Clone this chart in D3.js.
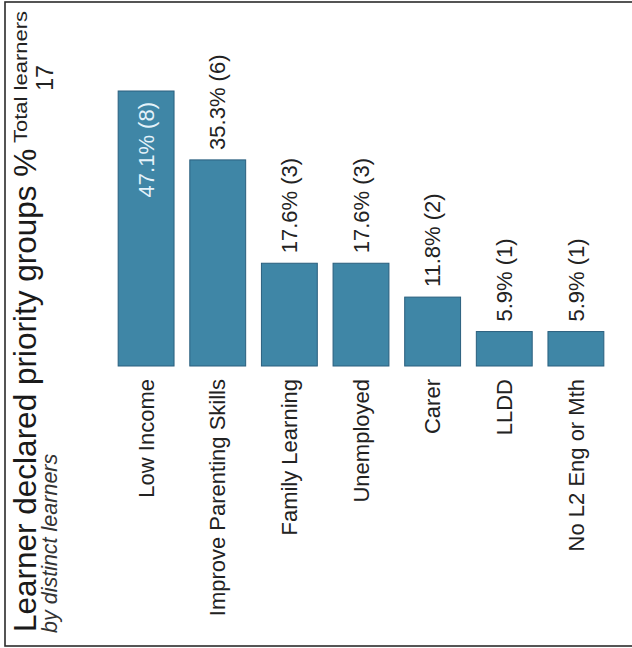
<!DOCTYPE html>
<html><head><meta charset="utf-8">
<script src="https://cdn.jsdelivr.net/npm/d3@7"></script>
<style>body{margin:0;background:#fff;}text{font-family:"Liberation Sans",Arial,sans-serif;}</style>
</head><body>
<svg id="c" width="632" height="648"></svg>
<script>
const categories = ["Low Income","Improve Parenting Skills","Family Learning","Unemployed","Carer","LLDD","No L2 Eng or Mth"];
const percents = [47.1, 35.3, 17.6, 17.6, 11.8, 5.9, 5.9];
const counts = [8, 6, 3, 3, 2, 1, 1];
const totalLearners = 17;
const titleText = "Learner declared priority groups %";
const subtitleText = "by distinct learners";
const totalLabel = "Total learners";

const svg = d3.select("#c");
svg.append("rect").attr("x",5).attr("y",2).attr("width",640).attr("height",644)
  .attr("fill","none").attr("stroke","#2b2b2b").attr("stroke-width",1.6);

const x = d3.scaleBand().domain(categories).range([111, 611]).paddingInner(0.22).paddingOuter(0.1);
const y = d3.scaleLinear().domain([0, 47.1]).range([366, 91]);

const data = categories.map((c,i)=>({c, p:percents[i], n:counts[i]}));

svg.selectAll("rect.bar").data(data).join("rect").attr("class","bar")
  .attr("x", d=>x(d.c)).attr("width", x.bandwidth())
  .attr("y", d=>y(d.p)).attr("height", d=>y(0)-y(d.p))
  .attr("fill","#3f86a6").attr("stroke","#2a5f7e").attr("stroke-width",1);

// value labels
svg.selectAll("text.val").data(data).join("text").attr("class","val")
  .attr("transform", (d,i)=>`translate(${x(d.c)+x.bandwidth()/2},${i===0 ? y(d.p)+11 : y(d.p)-10}) rotate(-90)`)
  .attr("dy","0.35em")
  .attr("text-anchor", (d,i)=> i===0 ? "end" : "start")
  .attr("font-size", 22)
  .attr("fill", (d,i)=> i===0 ? "#e4f2fa" : "#222")
  .text(d=>`${d.p.toFixed(1)}% (${d.n})`);

// category labels
svg.selectAll("text.cat").data(data).join("text").attr("class","cat")
  .attr("transform", d=>`translate(${x(d.c)+x.bandwidth()/2},379) rotate(-90)`)
  .attr("dy","0.35em")
  .attr("text-anchor","end")
  .attr("font-size", 22)
  .attr("fill","#222")
  .text(d=>d.c);

// titles
svg.append("text").attr("transform","translate(36,632) rotate(-90)")
  .attr("font-size",31.5).attr("fill","#1a1a1a").text(titleText);
svg.append("text").attr("transform","translate(57,633) rotate(-90)")
  .attr("font-size",21.5).attr("font-style","italic").attr("fill","#333").text(subtitleText);
svg.append("text").attr("transform","translate(27,77) rotate(-90)")
  .attr("font-size",18).attr("text-anchor","middle").attr("fill","#222")
  .attr("textLength",132).attr("lengthAdjust","spacingAndGlyphs").text(totalLabel);
svg.append("text").attr("transform","translate(53,78) rotate(-90)")
  .attr("font-size",23).attr("text-anchor","middle").attr("fill","#222").text(totalLearners);
</script>
</body></html>
